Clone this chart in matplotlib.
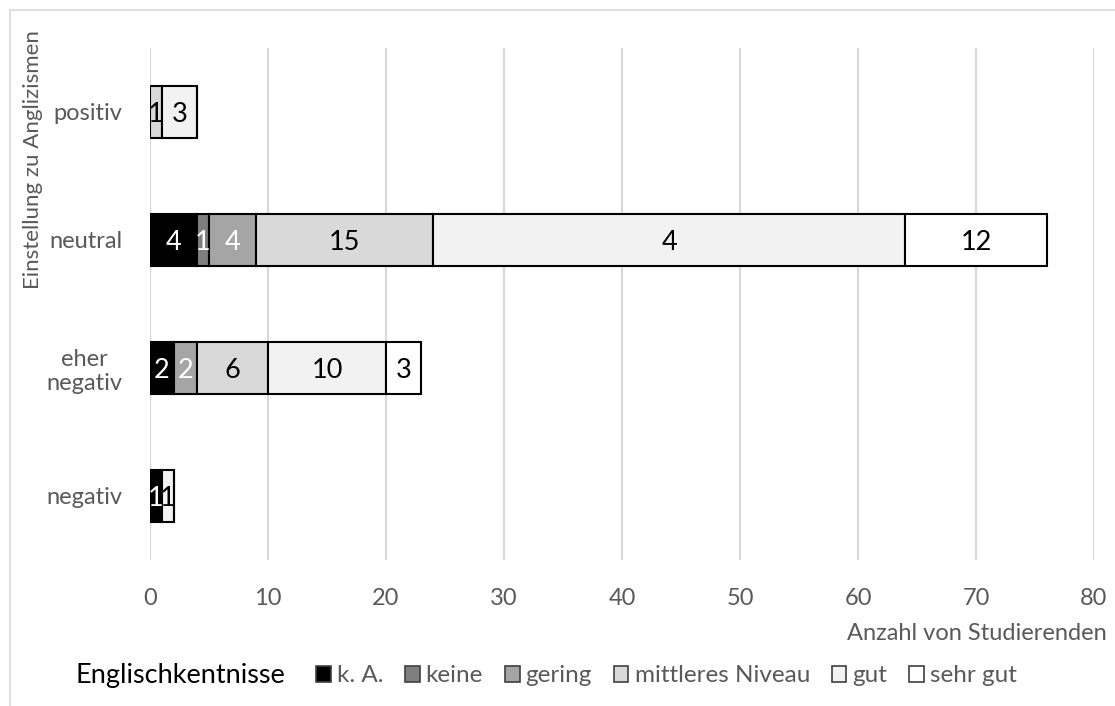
"""Stacked bars: Einstellung zu Anglizismen nach Englischkenntnissen."""

import matplotlib.pyplot as plt
import numpy as np
from matplotlib.lines import Line2D
from matplotlib.patches import Patch

plt.rcParams["font.family"] = ["Lato", "DejaVu Sans"]

categories = ["negativ", "eher\nnegativ", "neutral", "positiv"]
levels = ["k. A.", "keine", "gering", "mittleres Niveau", "gut", "sehr gut"]
ka = [1, 2, 4, 0]
keine = [0, 0, 1, 0]
gering = [0, 2, 4, 0]
mittel = [0, 6, 15, 1]
gut = [1, 10, 40, 3]
sehr_gut = [0, 3, 12, 0]
# the picture prints "4" on the 40-wide "gut" segment of "neutral"
label_override = {(2, 4): "4"}

COLORS = ["#000000", "#7f7f7f", "#a5a5a5", "#d9d9d9", "#f2f2f2", "#ffffff"]
TXT = ["white", "white", "white", "black", "black", "black"]
GRAY = "#595959"

vals = np.array([ka, keine, gering, mittel, gut, sehr_gut], dtype=float)

fig = plt.figure(figsize=(11.15, 7.06), dpi=100)
ax = fig.add_axes([150 / 1115, 1 - 560 / 706, 944 / 1115, 512 / 706])

y = np.arange(len(categories))
left = np.zeros(len(categories))
for j, (lev, color) in enumerate(zip(levels, COLORS)):
    w = vals[j]
    ax.barh(y, w, left=left, height=0.41, color=color, edgecolor="black",
            linewidth=1.5, zorder=3)
    for i in range(len(categories)):
        if w[i] > 0:
            txt = label_override.get((i, j), f"{w[i]:.0f}")
            ax.text(left[i] + w[i] / 2, y[i] - 0.02, txt, ha="center",
                    va="center", fontsize=19.5, color=TXT[j], zorder=4)
    left += w

ax.set_xlim(0, 80)
ax.set_ylim(-0.5, len(categories) - 0.5)
ax.set_xticks(np.arange(0, 81, 10))
ax.set_yticks(y)
ax.set_yticklabels(categories, fontsize=17, color=GRAY,
                   multialignment="center")
ax.tick_params(axis="x", labelsize=17, labelcolor=GRAY, length=0, pad=20)
ax.tick_params(axis="y", length=0, pad=20)
ax.grid(axis="x", color="#d9d9d9", linewidth=1.5, zorder=0)
for s in ["top", "right", "bottom", "left"]:
    ax.spines[s].set_visible(False)
ax.axvline(0, color="#d9d9d9", linewidth=1.5, zorder=1)

fig.text(33 / 1115, 1 - 30 / 706, "Einstellung zu Anglizismen", rotation=90,
         ha="center", va="top", fontsize=16, color=GRAY)
fig.text(1107 / 1115, 1 - 633 / 706, "Anzahl von Studierenden", ha="right",
         va="center", fontsize=17, color=GRAY)
fig.text(75 / 1115, 1 - 676 / 706, "Englischkentnisse", ha="left",
         va="center", fontsize=19.5, color="black")

handles = [Patch(facecolor=c, edgecolor="#404040", linewidth=1.2) for c in COLORS]
leg = fig.legend(handles, levels, loc="center left",
                 bbox_to_anchor=(316 / 1115, 1 - 676 / 706), ncol=6,
                 frameon=False, fontsize=17.5, handlelength=0.6,
                 handleheight=0.6, handletextpad=0.25, columnspacing=0.9,
                 borderaxespad=0, borderpad=0)
for t in leg.get_texts():
    t.set_color(GRAY)

# outer chart frame
fig.add_artist(Line2D([10 / 1115, 10 / 1115], [0, 1 - 10 / 706],
                      transform=fig.transFigure, color="#d9d9d9", lw=1.2))
fig.add_artist(Line2D([10 / 1115, 1], [1 - 10 / 706, 1 - 10 / 706],
                      transform=fig.transFigure, color="#d9d9d9", lw=1.2))

fig.savefig("out.png", dpi=100)
